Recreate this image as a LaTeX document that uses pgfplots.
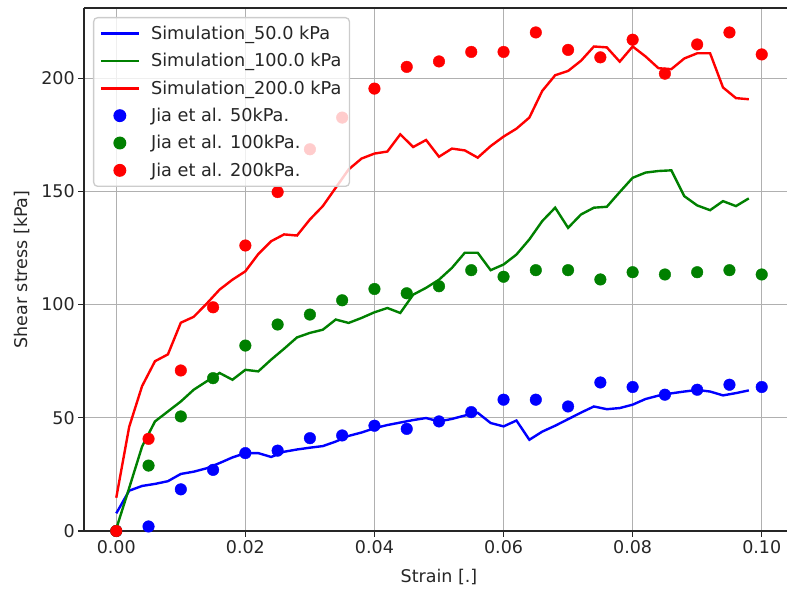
\documentclass[border=0pt]{standalone}
\usepackage{fontspec}
\setmainfont{DejaVu Sans}
\usepackage{pgfplots}
\usepackage{pgfplotstable}
\pgfplotsset{compat=1.18}
\definecolor{mplblue}{RGB}{0,0,255}
\definecolor{mplgreen}{RGB}{0,128,0}
\definecolor{mplred}{RGB}{255,0,0}

% simulation curves (strain, shear stress in kPa)
\pgfplotstableread{
x y
0.000 7.8
0.002 17.8
0.004 19.9
0.006 20.8
0.008 22.0
0.010 25.2
0.012 26.2
0.014 27.7
0.016 30.0
0.018 32.5
0.020 34.4
0.022 34.4
0.024 32.7
0.026 35.0
0.028 36.0
0.030 36.8
0.032 37.5
0.034 39.5
0.036 42.0
0.038 43.5
0.040 45.4
0.042 46.8
0.044 47.9
0.046 49.0
0.048 49.9
0.050 48.4
0.052 49.5
0.054 51.0
0.056 52.2
0.058 47.7
0.060 46.2
0.062 48.8
0.064 40.3
0.066 43.9
0.068 46.5
0.070 49.4
0.072 52.3
0.074 55.0
0.076 53.8
0.078 54.3
0.080 55.8
0.082 58.3
0.084 59.8
0.086 60.8
0.088 61.6
0.090 62.3
0.092 61.6
0.094 59.9
0.096 60.9
0.098 62.1
}\simA

\pgfplotstableread{
x y
0.000 1.0
0.002 19.0
0.004 37.3
0.006 48.4
0.008 52.8
0.010 57.2
0.012 62.4
0.014 66.1
0.016 69.8
0.018 66.8
0.020 71.2
0.022 70.5
0.024 75.7
0.026 80.5
0.028 85.5
0.030 87.5
0.032 88.9
0.034 93.4
0.036 91.9
0.038 94.1
0.040 96.6
0.042 98.5
0.044 96.3
0.046 104.4
0.048 107.4
0.050 111.0
0.052 116.2
0.054 122.9
0.056 122.9
0.058 115.2
0.060 117.7
0.062 122.1
0.064 128.8
0.066 136.9
0.068 142.8
0.070 133.9
0.072 139.8
0.074 142.8
0.076 143.2
0.078 149.7
0.080 156.0
0.082 158.3
0.084 159.0
0.086 159.3
0.088 147.9
0.090 143.8
0.092 141.7
0.094 145.7
0.096 143.5
0.098 146.9
}\simB

\pgfplotstableread{
x y
0.000 14.7
0.002 46.0
0.004 64.0
0.006 75.0
0.008 78.0
0.010 92.0
0.012 94.6
0.014 100.4
0.016 106.6
0.018 111.0
0.020 114.7
0.022 122.3
0.024 128.0
0.026 131.0
0.028 130.5
0.030 137.6
0.032 143.5
0.034 151.6
0.036 159.7
0.038 164.5
0.040 166.7
0.042 167.6
0.044 175.2
0.046 169.6
0.048 172.7
0.050 165.3
0.052 168.9
0.054 168.1
0.056 164.9
0.058 170.0
0.060 174.2
0.062 177.7
0.064 182.6
0.066 194.4
0.068 201.3
0.070 203.2
0.072 207.7
0.074 214.0
0.076 213.6
0.078 207.3
0.080 214.0
0.082 209.6
0.084 204.4
0.086 204.0
0.088 208.7
0.090 211.0
0.092 211.0
0.094 195.9
0.096 191.2
0.098 190.7
}\simC

% Jia et al. measurements: x, 50 kPa, 100 kPa, 200 kPa
\pgfplotstableread{
x a b c
0.000 0.0 0.0 0.0
0.005 2.0 28.9 40.7
0.010 18.4 50.6 70.9
0.015 27.0 67.5 98.8
0.020 34.4 81.9 126.1
0.025 35.5 91.2 149.7
0.030 41.0 95.6 168.6
0.035 42.2 101.9 182.6
0.040 46.5 106.9 195.4
0.045 45.1 105.0 205.0
0.050 48.4 108.1 207.4
0.055 52.5 115.2 211.6
0.060 58.0 112.3 211.6
0.065 58.0 115.2 220.2
0.070 55.0 115.2 212.5
0.075 65.6 111.1 209.2
0.080 63.6 114.3 217.0
0.085 60.2 113.3 202.0
0.090 62.4 114.3 214.9
0.095 64.6 115.2 220.2
0.100 63.6 113.3 210.5
}\jia

\begin{document}
\begin{tikzpicture}
\begin{axis}[
  scale only axis,
  width=710pt, height=523pt,
  xmin=-0.005, xmax=0.105,
  ymin=0, ymax=231,
  axis lines*=left,
  xtick={0,0.02,0.04,0.06,0.08,0.1},
  ytick={0,50,100,150,200},
  scaled x ticks=false,
  xticklabel style={/pgf/number format/.cd, fixed, fixed zerofill, precision=2, assume math mode=true},
  yticklabel style={/pgf/number format/assume math mode=true},
  tick label style={font=\fontsize{17.5}{21}\selectfont, text=black!85},
  xlabel={Strain [.]},
  ylabel={Shear stress [kPa]},
  xlabel style={at={(rel axis cs:0.5,0)}, anchor=center, yshift=-46pt, font=\fontsize{17.5}{21}\selectfont, text=black!85},
  ylabel style={at={(rel axis cs:0,0.5)}, anchor=center, xshift=0pt, yshift=62pt, font=\fontsize{17.5}{21}\selectfont, text=black!85},
  grid=major,
  major grid style={black!31, line width=1.3pt},
  axis line style={-, black!85, line width=1.3pt},
  tick align=outside, tick pos=left,
  major tick length=5.8pt,
  major tick style={black!85, line width=1.3pt},
  legend cell align=left,
  legend style={at={(0,1)}, anchor=north west, xshift=9pt, yshift=-9pt,
    draw=black!20, line width=1.3pt, fill=white, fill opacity=0.8,
    draw opacity=1, text opacity=1, rounded corners=4pt,
    font=\fontsize{17.7}{21}\selectfont, text=black!85,
    inner xsep=6pt, inner ysep=6.5pt, row sep=8.4pt, column sep=9pt},
  simline/.style={legend image code/.code={\draw[##1] (0pt,0pt) -- (38pt,0pt);}},
  simdot/.style={legend image code/.code={\path (0pt,0pt) (38pt,0pt);
      \draw[##1, fill opacity=1] plot coordinates {(19pt,0pt)};}},
]
\coordinate (bl) at (rel axis cs:0,0);
\coordinate (tr) at (rel axis cs:1,1);

\addplot[mplblue, line width=2.4pt, simline] table[x=x, y=y] {\simA};
\addlegendentry{Simulation\_50.0 kPa}
\addplot[mplgreen, line width=2.4pt, simline] table[x=x, y=y] {\simB};
\addlegendentry{Simulation\_100.0 kPa}
\addplot[mplred, line width=2.4pt, simline] table[x=x, y=y] {\simC};
\addlegendentry{Simulation\_200.0 kPa}

\addplot[only marks, mark=*, mark size=5.8pt, mplblue, simdot] table[x=x, y=a] {\jia};
\addlegendentry{Jia et al. 50kPa.}
\addplot[only marks, mark=*, mark size=5.8pt, mplgreen, simdot] table[x=x, y=b] {\jia};
\addlegendentry{Jia et al. 100kPa.}
\addplot[only marks, mark=*, mark size=5.8pt, mplred, simdot] table[x=x, y=c] {\jia};
\addlegendentry{Jia et al. 200kPa.}

% top frame line (the right one falls outside the cropped picture)
\draw[black!85, line width=1.3pt] (rel axis cs:0,1) -- (rel axis cs:1,1);
\end{axis}
\pgfresetboundingbox
\path[use as bounding box] ([shift={(-84pt,-58pt)}]bl) rectangle ([shift={(-7pt,8pt)}]tr);
\end{tikzpicture}
\end{document}
